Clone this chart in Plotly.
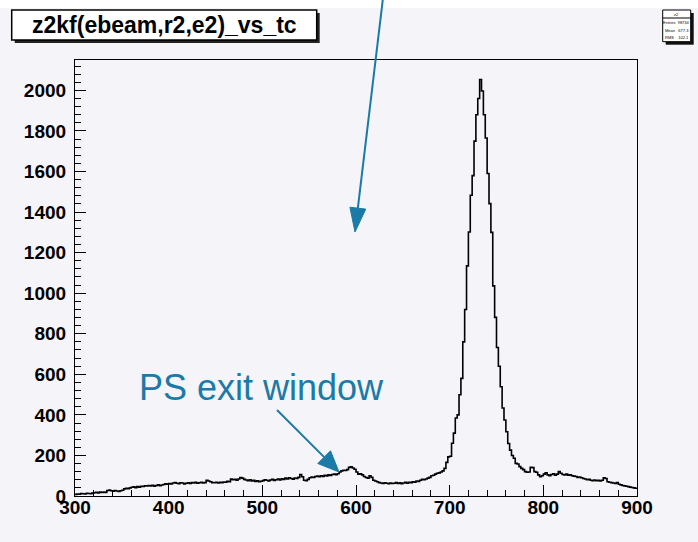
import plotly.graph_objects as go
import numpy as np

# ---------------- data (histogram z2kf(ebeam,r2,e2)_vs_tc) ----------------
x_min, x_max, n_bins = 300, 900, 300

counts_300_400 = [
    8, 10, 9, 12, 11, 10, 13, 12, 11, 14,
    16, 18, 15, 19, 17, 20, 18, 27, 29, 26,
    24, 27, 25, 23, 26, 28, 35, 38, 36, 40,
    43, 45, 41, 46, 44, 48, 47, 50, 49, 52,
    50, 53, 48, 52, 55, 51, 54, 57, 60, 58]
counts_400_500 = [
    62, 60, 64, 66, 63, 61, 65, 64, 60, 63,
    65, 62, 66, 64, 67, 63, 65, 68, 64, 66,
    77, 74, 70, 66, 65, 68, 64, 67, 66, 69,
    68, 72, 70, 83, 80, 82, 78, 84, 91, 88,
    82, 79, 76, 80, 74, 77, 72, 75, 70, 73]
counts_500_600 = [
    76, 80, 78, 74, 79, 82, 77, 80, 84, 79,
    85, 82, 88, 84, 90, 86, 83, 89, 87, 92,
    106, 95, 78, 76, 82, 90, 94, 91, 96, 98,
    95, 100, 97, 102, 99, 104, 101, 106, 108, 105,
    110, 118, 124, 127, 126, 130, 141, 144, 138, 132]
counts_600_700 = [
    118, 108, 110, 104, 96, 91, 88, 100, 92, 78,
    74, 70, 66, 64, 62, 65, 63, 61, 64, 62,
    63, 66, 62, 65, 61, 64, 67, 63, 68, 66,
    70, 68, 74, 72, 78, 82, 80, 84, 88, 92,
    100, 102, 108, 112, 114, 118, 124, 136, 166, 193]
counts_700_800 = [
    196, 260, 310, 385, 400, 499, 580, 760, 920, 1135,
    1302, 1483, 1580, 1750, 1880, 1960, 2054, 1997, 1880, 1765,
    1590, 1442, 1300, 1036, 881, 732, 640, 539, 434, 375,
    317, 259, 226, 200, 186, 161, 158, 145, 136, 130,
    120, 117, 118, 142, 140, 120, 117, 104, 95, 100]
counts_800_900 = [
    108, 114, 104, 100, 106, 110, 102, 108, 120, 112,
    106, 104, 108, 102, 105, 100, 98, 96, 92, 94,
    90, 86, 84, 80, 82, 78, 76, 79, 75, 77,
    74, 78, 90, 86, 70, 68, 66, 64, 62, 66,
    58, 55, 52, 50, 48, 46, 44, 42, 40, 38]

x_ticks = [300, 400, 500, 600, 700, 800, 900]
y_ticks = [0, 200, 400, 600, 800, 1000, 1200, 1400, 1600, 1800, 2000]

title_text = "z2kf(ebeam,r2,e2)_vs_tc"
note_text = "PS exit window"
stats_lines = ["z2", "Entries  98734", "Mean   677.3", "RMS    102.1"]

# ---------------- build ----------------
counts = (counts_300_400 + counts_400_500 + counts_500_600 +
          counts_600_700 + counts_700_800 + counts_800_900)
edges = np.linspace(x_min, x_max, n_bins + 1)
xs = list(edges)
ys = counts + [counts[-1]]

W, H = 698, 542
ML, MR, MT, MB = 75, 61, 60, 46
PW, PH = W - ML - MR, H - MT - MB


def px(x):
    return (x - ML) / PW


def py(y):
    return (H - MB - y) / PH


BLUE = "#1a7aa8"
BG = "#f5f4f8"
FONT = "Liberation Sans, Arial, sans-serif"

fig = go.Figure()
fig.add_trace(go.Scatter(x=xs, y=ys, mode="lines", line_shape="hv",
                         line=dict(color="black", width=1.6),
                         hoverinfo="skip", showlegend=False))

shapes = []
# white strip on top of slide
shapes.append(dict(type="rect", xref="paper", yref="paper", layer="below",
                   x0=px(0), x1=px(W), y0=py(0), y1=py(8),
                   fillcolor="white", line=dict(width=0)))
# title box with shadow
shapes.append(dict(type="rect", xref="paper", yref="paper",
                   x0=px(14.7), x1=px(319.7), y0=py(43), y1=py(13),
                   fillcolor="#222222", line=dict(width=0)))
shapes.append(dict(type="rect", xref="paper", yref="paper",
                   x0=px(11.7), x1=px(316.7), y0=py(40), y1=py(10),
                   fillcolor="white", line=dict(color="black", width=1.5)))
# stats box with shadow
shapes.append(dict(type="rect", xref="paper", yref="paper",
                   x0=px(665.7), x1=px(693.7), y0=py(44.7), y1=py(13),
                   fillcolor="#111111", line=dict(width=0)))
shapes.append(dict(type="rect", xref="paper", yref="paper",
                   x0=px(662.7), x1=px(690.7), y0=py(41.7), y1=py(10),
                   fillcolor="white", line=dict(color="black", width=1)))
shapes.append(dict(type="line", xref="paper", yref="paper",
                   x0=px(662.7), x1=px(690.7), y0=py(18), y1=py(18),
                   line=dict(color="black", width=1)))


def arrow(x0, y0, x1, y1, head_len, head_half):
    d = np.array([x1 - x0, y1 - y0], dtype=float)
    u = d / np.linalg.norm(d)
    p = np.array([u[1], -u[0]])
    base = np.array([x1, y1]) - head_len * u
    c1 = base + head_half * p
    c2 = base - head_half * p
    out = [dict(type="line", xref="paper", yref="paper",
                x0=px(x0), y0=py(y0), x1=px(base[0]), y1=py(base[1]),
                line=dict(color=BLUE, width=2))]
    path = "M {} {} L {} {} L {} {} Z".format(
        px(x1), py(y1), px(c1[0]), py(c1[1]), px(c2[0]), py(c2[1]))
    out.append(dict(type="path", xref="paper", yref="paper", path=path,
                    fillcolor=BLUE, line=dict(color=BLUE, width=1)))
    return out


shapes += arrow(383, -2, 355, 232, 24, 8)
shapes += arrow(277, 410, 339, 472, 21, 9)

annotations = [
    dict(text="<b>" + title_text + "</b>", xref="paper", yref="paper",
         x=px(164), y=py(25.5), xanchor="center", yanchor="middle",
         showarrow=False, font=dict(family=FONT, size=23, color="black")),
    dict(text=note_text, xref="paper", yref="paper",
         x=px(261), y=py(388), xanchor="center", yanchor="middle",
         showarrow=False, font=dict(family=FONT, size=36, color=BLUE)),
]
stat_y = [14, 23, 30, 37]
for t, yy in zip(stats_lines, stat_y):
    annotations.append(dict(text=t, xref="paper", yref="paper",
                            x=px(676.7), y=py(yy), xanchor="center",
                            yanchor="middle", showarrow=False,
                            font=dict(family=FONT, size=4, color="black")))

axis_common = dict(showline=True, linecolor="black", linewidth=1.2,
                   mirror=True, ticks="inside", tickcolor="black",
                   tickwidth=1.2, showgrid=False, zeroline=False,
                   tickfont=dict(family=FONT, size=19, color="black",
                                 weight="bold"))

fig.update_layout(
    width=W, height=H,
    margin=dict(l=ML, r=MR, t=MT, b=MB),
    paper_bgcolor=BG, plot_bgcolor=BG,
    shapes=shapes, annotations=annotations,
    xaxis=dict(range=[x_min, x_max], tickvals=x_ticks, ticklen=11,
               minor=dict(ticks="inside", dtick=20, ticklen=6,
                          tickcolor="black", tickwidth=1.2),
               ticklabelstandoff=-6, **axis_common),
    yaxis=dict(range=[0, 2150], tickvals=y_ticks, ticklen=11,
               minor=dict(ticks="inside", dtick=40, ticklen=6,
                          tickcolor="black", tickwidth=1.2),
               ticklabelstandoff=4, **axis_common),
)

fig.write_html("out.html",
               config={"displayModeBar": False},
               post_script="document.body.style.margin='0';"
                           "document.body.style.padding='0';")
